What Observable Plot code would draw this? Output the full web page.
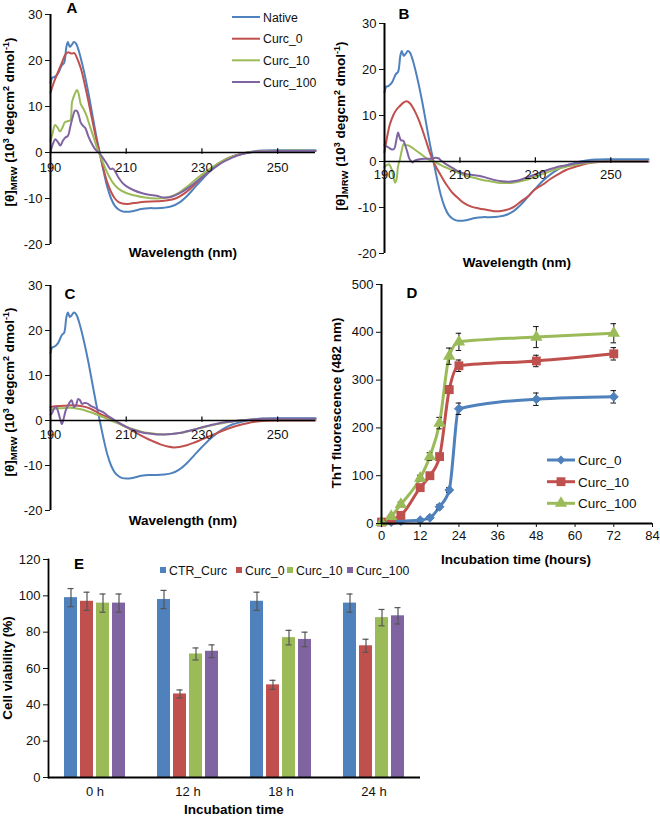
<!DOCTYPE html>
<html><head><meta charset="utf-8">
<script src="https://cdn.jsdelivr.net/npm/d3@7"></script>
<script src="https://cdn.jsdelivr.net/npm/@observablehq/plot@0.6"></script>
<style>
body{margin:0;background:#fff;}
#root{position:relative;width:660px;height:817px;overflow:hidden;font-family:"Liberation Sans",Arial,Helvetica,sans-serif;background:#fff;}
</style></head><body><div id="root"></div>
<script>
// ---------- CD spectra (panels A, B, C) ----------
const cdNames = ["Native", "Curc_0", "Curc_10", "Curc_100"];
const cdXTicks = [190, 210, 230, 250];
const cdYTicks = [-20, -10, 0, 10, 20, 30];
const cdNative = [[190,15],[190.5,16.3],[191,16.4],[192,17.2],[193,19],[193.6,19.5],[194.2,23],[194.6,24],[195.1,23],[195.6,23.4],[196.2,24],[196.8,23.6],[197.5,22],[198.3,19.5],[199,17],[200,13],[201,8.5],[202,4],[203,0],[204,-4],[205,-7.5],[206,-10],[207,-11.6],[208,-12.4],[209,-12.8],[210,-12.9],[212,-12.7],[214,-12.3],[216,-12.1],[218,-12.1],[220,-12],[222,-11.7],[224,-10.9],[226,-9.5],[228,-7.7],[230,-5.9],[232,-4.2],[234,-2.8],[236,-1.7],[238,-0.9],[240,-0.4],[242,0],[244,0.3],[246,0.45],[250,0.5],[255,0.5],[260,0.5]];
const cdA0 = [[190,13],[191,15.5],[192,17.5],[193,19.5],[194,21.4],[194.7,21.8],[195.5,21.5],[196.3,21.6],[197,20.5],[198,18.3],[199,15],[200,11.2],[201,7.2],[202,3.2],[203,-0.2],[204,-3.6],[205,-6.5],[206,-8.6],[207,-10],[208,-10.8],[209,-11.1],[210,-11.2],[212,-11],[215,-10.7],[218,-10.6],[221,-10.4],[223,-10],[225,-9.1],[227,-7.8],[229,-6.2],[231,-4.6],[233,-3.2],[235,-2.1],[237,-1.2],[239,-0.6],[241,-0.2],[243,0.1],[246,0.25],[250,0.3],[260,0.3]];
const cdA10 = [[190,2.5],[190.5,4],[191.2,6],[191.8,5.5],[192.5,4.6],[193.2,5.5],[193.8,6.6],[194.5,6.8],[195.2,7],[195.7,11],[196.3,12.5],[197,13.6],[197.5,12.5],[198,10.5],[198.7,9.5],[199.5,8],[200.5,5.5],[201.5,3],[202.5,0.5],[203.5,-1.5],[204.5,-3.5],[205.5,-5.2],[206.5,-6.6],[208,-7.9],[210,-8.8],[212,-9.3],[215,-9.8],[218,-10],[220,-9.9],[222,-9.5],[224,-8.7],[226,-7.5],[228,-6.1],[230,-4.8],[232,-3.6],[234,-2.5],[236,-1.6],[238,-0.9],[240,-0.4],[242,0],[245,0.2],[250,0.4],[260,0.4]];
const cdA100 = [[190,0],[190.6,1.8],[191.3,2.9],[192,2.2],[192.6,1.5],[193.3,2.6],[194,3.3],[194.6,3.6],[195.2,5.5],[195.8,7.5],[196.5,9.1],[197,9],[197.5,8],[198,6.5],[198.6,5.8],[199.2,5.3],[200,3.5],[201,1.8],[202,0.5],[203,-0.2],[204,-1.4],[205,-2.6],[205.8,-3.6],[206.5,-3.5],[207.2,-4.3],[208,-5.5],[209,-6.6],[210,-7.3],[212,-8.2],[214,-8.8],[216,-9.2],[218,-9.4],[220,-9.8],[222,-9.6],[224,-8.9],[226,-7.9],[228,-6.7],[230,-5.4],[232,-4.1],[234,-2.9],[236,-1.9],[238,-1.1],[240,-0.5],[242,-0.1],[245,0.2],[250,0.3],[260,0.3]];
const cdB0 = [[190,2],[190.5,4.5],[191.4,8],[192.3,10],[193.2,11.3],[194,12],[195,12.8],[195.9,13.1],[196.8,12.6],[198,11],[199,9.2],[200,7],[201,4.5],[202,2],[203,-0.1],[204,-1.7],[205,-3.1],[206,-4.5],[207,-5.7],[208,-6.8],[209.7,-8.1],[211,-9],[213,-9.8],[215,-10.2],[217,-10.5],[219,-10.8],[220.5,-10.8],[222,-10.6],[224,-10],[226,-8.8],[228,-7.6],[229.2,-6.6],[230,-6],[232,-5],[234,-3.8],[236,-2.8],[238,-1.9],[240,-1.3],[242,-0.8],[244,-0.4],[247,-0.1],[250,0],[260,0]];
const cdB10 = [[190,-1.2],[190.6,-0.8],[191.2,-0.6],[191.8,-1.5],[192.3,-3],[192.8,-4.6],[193.2,-3.8],[193.6,-1],[194.1,0.5],[194.6,2.5],[195.1,3.8],[195.6,3.6],[196.3,3.5],[197,3.2],[198,2.6],[199,2],[200,1.4],[201,0.8],[202,0.3],[203,0],[204,-0.4],[205,-0.8],[206,-1.2],[208,-1.9],[210,-2.6],[212,-3.2],[214,-3.6],[216,-4],[218,-4.3],[220,-4.6],[222,-4.7],[224,-4.6],[226,-4.3],[228,-3.9],[230,-3.3],[232,-2.7],[234,-2.1],[236,-1.6],[238,-1.2],[240,-0.8],[242,-0.5],[244,-0.3],[246,-0.1],[250,0],[260,0]];
const cdB100 = [[190,3.5],[190.6,3.3],[191.3,2.9],[192,2.6],[192.6,2.8],[193.1,4.5],[193.6,6.3],[194,5.3],[194.4,4.6],[195,4.5],[195.5,3.5],[196,2.2],[196.5,0.8],[197,0.1],[197.5,-0.2],[198,0.2],[198.7,0.4],[199.5,0.5],[200.5,0.6],[201.5,0.6],[202.5,0.6],[203.5,0.8],[204.3,0.7],[205,0.2],[206,-0.4],[207,-0.9],[208,-1.4],[209,-1.9],[210,-2.3],[212,-2.8],[214,-3],[215,-3.1],[217,-3.5],[219,-4],[221,-4.3],[223,-4.4],[225,-4.2],[227,-3.7],[229,-3.1],[231,-2.5],[233,-1.9],[235,-1.4],[237,-1],[239,-0.7],[241,-0.4],[243,-0.2],[246,0],[250,0],[260,0]];
const cdC0 = [[190,3],[192,3.2],[194,3.3],[196,3.4],[198,3.2],[200,2.8],[201.5,2.2],[203,1.5],[205,0.8],[207,-0.1],[209,-1],[211,-1.9],[213,-2.9],[215,-3.8],[217,-4.6],[219,-5.3],[221,-5.8],[222.6,-6],[224,-5.9],[226,-5.5],[228,-4.9],[230,-4.2],[232,-3.5],[234,-2.8],[236,-2.1],[238,-1.5],[240,-1],[242,-0.6],[244,-0.3],[246,-0.1],[250,0],[260,0]];
const cdC10 = [[190,2.4],[192,2.7],[194,2.8],[196,2.8],[198,2.5],[200,2],[202,1.4],[204,0.7],[206,0],[208,-0.7],[210,-1.4],[212,-2],[214,-2.5],[216,-2.8],[218,-3],[220,-3.1],[222,-3],[224,-2.8],[226,-2.5],[228,-2],[230,-1.6],[232,-1.2],[234,-0.8],[236,-0.5],[238,-0.2],[240,0],[243,0.2],[246,0.3],[250,0.3],[260,0.3]];
const cdC100 = [[190,1.3],[190.5,1.8],[191,2.8],[191.5,3],[192,2],[192.5,0.5],[193,-0.8],[193.5,0.5],[194,2.2],[194.6,3.3],[195.2,4.2],[195.6,4.5],[196.2,3],[196.7,3.3],[197.3,4.8],[197.8,4.5],[198.3,3.7],[199,3.9],[199.7,3.8],[200.5,3.3],[201.5,2.9],[203,2.2],[204,1.8],[205,1.1],[206,0.6],[207,0],[208,-0.5],[210,-1.4],[212,-2.1],[214,-2.6],[216,-2.9],[218,-3.1],[220,-3.1],[222,-3],[224,-2.8],[226,-2.4],[228,-2],[230,-1.5],[232,-1.1],[234,-0.7],[236,-0.4],[238,-0.2],[240,0],[243,0.2],[246,0.4],[250,0.4],[260,0.4]];

// ---------- ThT fluorescence (panel D) ----------
const thtNames = ["Curc_0", "Curc_10", "Curc_100"];
const thtTimes = [0, 3, 6, 12, 15, 18, 21, 24, 48, 72];
const thtCurc0 = [2, 3, 5, 7, 12, 35, 70, 240, 260, 265];
const thtErr0 = [2, 2, 2, 3, 3, 5, 5, 12, 13, 13];
const thtCurc10 = [3, 7, 17, 75, 100, 140, 280, 330, 340, 355];
const thtErr10 = [2, 3, 4, 5, 6, 6, 8, 12, 12, 13];
const thtCurc100 = [2, 15, 40, 95, 140, 210, 350, 380, 390, 398];
const thtErr100 = [2, 3, 5, 6, 8, 12, 17, 18, 22, 20];
const thtXTicks = [0, 12, 24, 36, 48, 60, 72, 84];
const thtYTicks = [0, 100, 200, 300, 400, 500];

// ---------- Cell viability (panel E) ----------
const viabTimes = ["0 h", "12 h", "18 h", "24 h"];
const viabSeries = ["CTR_Curc", "Curc_0", "Curc_10", "Curc_100"];
const viabCTR = [99, 98, 97, 96];
const viabCurc0 = [97, 46, 51, 72.5];
const viabCurc10 = [96, 68, 77, 88];
const viabCurc100 = [96, 69.5, 76, 89];
const errCTR = [5, 5, 5, 5];
const errCurc0 = [5, 2.2, 2.5, 3.6];
const errCurc10 = [5, 3.3, 4, 4.5];
const errCurc100 = [5, 3.5, 4, 4.5];
const viabYTicks = [0, 20, 40, 60, 80, 100, 120];

const BLUE = "#4F81BD", RED = "#C0504D", GREEN = "#9BBB59", PURPLE = "#8064A2";
const cdColors = [BLUE, RED, GREEN, PURPLE];
const FONT = '"Liberation Sans", Arial, Helvetica, sans-serif';
const baseStyle = {fontFamily: FONT, fontSize: "13px", background: "transparent", color: "#111", overflow: "visible"};

const root = document.getElementById("root");
function place(node, left, top) {
  node.style.position = "absolute";
  node.style.left = left + "px";
  node.style.top = top + "px";
  root.appendChild(node);
}

function cdPanel(series, dims, tickDy) {
  const rows = series.flatMap(s => s.values.map(([w, v]) => ({name: s.name, w, v})));
  return Plot.plot({
    width: dims.w, height: dims.h,
    marginTop: dims.t, marginRight: dims.r, marginBottom: dims.b, marginLeft: dims.l,
    style: baseStyle,
    x: {domain: [190, 260], axis: null},
    y: {domain: [-20, 30], axis: null},
    color: {domain: cdNames, range: cdColors},
    marks: [
      Plot.line(rows, {x: "w", y: "v", z: "name", stroke: "name", strokeWidth: 2, curve: "catmull-rom"}),
      Plot.ruleY([0], {stroke: "#000", strokeWidth: 1.6}),
      Plot.ruleX(cdXTicks.slice(1), {x: d => d, y1: -0.4, y2: 0.8, stroke: "#000", strokeWidth: 1.2}),
      Plot.ruleX([190], {y1: -20, y2: 30, stroke: "#000", strokeWidth: 2}),
      Plot.axisY({ticks: cdYTicks, tickSize: 5, tickPadding: 3, label: null, tickFormat: d => String(d)}),
      Plot.text(cdXTicks, {x: d => d, y: 0, dy: tickDy, text: d => String(d)})
    ]
  });
}

const sA = [{name: "Native", values: cdNative}, {name: "Curc_0", values: cdA0}, {name: "Curc_10", values: cdA10}, {name: "Curc_100", values: cdA100}];
const sB = [{name: "Native", values: cdNative}, {name: "Curc_0", values: cdB0}, {name: "Curc_10", values: cdB10}, {name: "Curc_100", values: cdB100}];
const sC = [{name: "Native", values: cdNative}, {name: "Curc_0", values: cdC0}, {name: "Curc_10", values: cdC10}, {name: "Curc_100", values: cdC100}];

place(cdPanel(sA, {w: 330, h: 270, t: 14, r: 15, b: 26, l: 50}, 15), 0, 0);
place(cdPanel(sB, {w: 330, h: 280, t: 23, r: 12, b: 27, l: 54}, 13), 330, 0);
place(cdPanel(sC, {w: 330, h: 270, t: 15, r: 15, b: 30, l: 50}, 14), 0, 270);

// Panel D
const mk = (vals, errs, name) => thtTimes.map((t, i) => ({name, t, v: vals[i], e: errs[i]}));
const d0 = mk(thtCurc0, thtErr0, "Curc_0");
const d10 = mk(thtCurc10, thtErr10, "Curc_10");
const d100 = mk(thtCurc100, thtErr100, "Curc_100");
const dAll = [...d0, ...d10, ...d100];
const capW = 0.85;
const plotD = Plot.plot({
  width: 330, height: 298, marginTop: 14, marginRight: 8, marginBottom: 45, marginLeft: 51,
  style: baseStyle,
  x: {domain: [0, 84], axis: null},
  y: {domain: [0, 500], axis: null},
  color: {domain: thtNames, range: [BLUE, RED, GREEN]},
  marks: [
    Plot.line(dAll, {x: "t", y: "v", z: "name", stroke: "name", strokeWidth: 3, curve: "monotone-x"}),
    Plot.ruleX(dAll, {x: "t", y1: d => d.v - d.e, y2: d => d.v + d.e, stroke: "#111", strokeWidth: 1}),
    Plot.ruleY(dAll, {y: d => d.v + d.e, x1: d => d.t - capW, x2: d => d.t + capW, stroke: "#111", strokeWidth: 1}),
    Plot.ruleY(dAll, {y: d => d.v - d.e, x1: d => d.t - capW, x2: d => d.t + capW, stroke: "#111", strokeWidth: 1}),
    Plot.dot(d0, {x: "t", y: "v", symbol: "diamond2", r: 4, fill: BLUE, stroke: BLUE, strokeWidth: 1}),
    Plot.dot(d10, {x: "t", y: "v", symbol: "square", r: 5, fill: RED}),
    Plot.dot(d100, {x: "t", y: "v", symbol: "triangle", r: 4.6, fill: GREEN}),
    Plot.ruleX([0], {y1: 0, y2: 500, stroke: "#000", strokeWidth: 2}),
    Plot.ruleY([0], {stroke: "#000", strokeWidth: 2}),
    Plot.axisY({ticks: thtYTicks, tickSize: 5, tickPadding: 3, label: null, tickFormat: d => String(d)}),
    Plot.axisX({ticks: thtXTicks, tickSize: 4, tickPadding: 3, label: null, tickFormat: d => String(d)})
  ]
});
place(plotD, 330, 270);

// Panel E
const viabVals = [viabCTR, viabCurc0, viabCurc10, viabCurc100];
const viabErrs = [errCTR, errCurc0, errCurc10, errCurc100];
const eRows = viabTimes.flatMap((time, i) => viabSeries.map((s, j) => ({time, s, v: viabVals[j][i], e: viabErrs[j][i]})));
const plotE = Plot.plot({
  width: 430, height: 277, marginTop: 19, marginRight: 10, marginBottom: 40, marginLeft: 48,
  style: baseStyle,
  fx: {domain: viabTimes, padding: 0, label: null, tickSize: 0, tickPadding: 9},
  x: {domain: viabSeries, paddingInner: 0.2, paddingOuter: 0.84, axis: null},
  y: {domain: [0, 120], ticks: viabYTicks, tickSize: 5, tickPadding: 3, label: null, tickFormat: d => String(d)},
  color: {domain: viabSeries, range: cdColors},
  marks: [
    Plot.barY(eRows, {fx: "time", x: "s", y: "v", fill: "s"}),
    Plot.ruleX(eRows, {fx: "time", x: "s", y1: d => d.v - d.e, y2: d => d.v + d.e, stroke: "#555", strokeWidth: 1.2}),
    Plot.tickY(eRows, {fx: "time", x: "s", y: d => d.v + d.e, stroke: "#555", strokeWidth: 1.2, insetLeft: 3.5, insetRight: 3.5}),
    Plot.tickY(eRows, {fx: "time", x: "s", y: d => d.v - d.e, stroke: "#555", strokeWidth: 1.2, insetLeft: 3.5, insetRight: 3.5}),
    Plot.ruleY([0], {stroke: "#000", strokeWidth: 1.8}),
    Plot.frame({anchor: "left", facetAnchor: "left", stroke: "#000", strokeWidth: 1.8})
  ]
});
place(plotE, 0, 540);

// ---------- Overlay: panel letters, axis titles, legends ----------
const ov = d3.create("svg").attr("width", 660).attr("height", 817)
  .style("font-family", FONT).style("overflow", "visible");
place(ov.node(), 0, 0);

function letter(t, x, y) {
  ov.append("text").attr("x", x).attr("y", y).attr("text-anchor", "middle")
    .attr("font-weight", "bold").attr("font-size", 15).attr("fill", "#000").text(t);
}
letter("A", 72, 13); letter("B", 404, 19); letter("C", 70, 299); letter("D", 412, 298); letter("E", 79, 569);

function xTitle(t, x, y) {
  ov.append("text").attr("x", x).attr("y", y).attr("text-anchor", "middle")
    .attr("font-weight", "bold").attr("font-size", 13.5).attr("fill", "#000").text(t);
}
xTitle("Wavelength (nm)", 183, 257);
xTitle("Wavelength (nm)", 517, 267);
xTitle("Wavelength (nm)", 183, 525);
xTitle("Incubation time (hours)", 516, 564);
xTitle("Incubation time", 234, 814);

function yTitlePlain(t, x, y) {
  ov.append("text").attr("transform", `translate(${x},${y}) rotate(-90)`).attr("text-anchor", "middle")
    .attr("font-weight", "bold").attr("font-size", 13.5).attr("fill", "#000").text(t);
}
yTitlePlain("ThT fluorescence (482 nm)", 341, 403);
yTitlePlain("Cell viability (%)", 12, 668);

function cdYTitle(x, y) {
  const t = ov.append("text").attr("transform", `translate(${x},${y}) rotate(-90)`).attr("text-anchor", "middle")
    .attr("font-weight", "bold").attr("font-size", 13.5).attr("fill", "#000");
  t.append("tspan").text("[θ]");
  t.append("tspan").attr("font-size", 9.5).attr("dy", 3).text("MRW");
  t.append("tspan").attr("dy", -3).text(" (10");
  t.append("tspan").attr("font-size", 9).attr("dy", -5).text("3");
  t.append("tspan").attr("dy", 5).text(" degcm");
  t.append("tspan").attr("font-size", 9).attr("dy", -5).text("2");
  t.append("tspan").attr("dy", 5).text(" dmol");
  t.append("tspan").attr("font-size", 9).attr("dy", -5).text("-1");
  t.append("tspan").attr("dy", 5).text(")");
}
cdYTitle(14, 122);
cdYTitle(345, 126);
cdYTitle(14, 392);

// Legend A
const legA = [17, 38.7, 60.3, 82];
cdNames.forEach((n, i) => {
  ov.append("line").attr("x1", 232).attr("x2", 260).attr("y1", legA[i]).attr("y2", legA[i])
    .attr("stroke", cdColors[i]).attr("stroke-width", 2);
  ov.append("text").attr("x", 263).attr("y", legA[i] + 4.5).attr("font-size", 12.3).attr("fill", "#111").text(n);
});

// Legend D
const legD = [460, 481.7, 503.3];
const dCols = [BLUE, RED, GREEN];
const dSyms = [d3.symbol(d3.symbolDiamond2, 50), d3.symbol(d3.symbolSquare, 78), d3.symbol(d3.symbolTriangle, 66)];
thtNames.forEach((n, i) => {
  ov.append("line").attr("x1", 547).attr("x2", 575).attr("y1", legD[i]).attr("y2", legD[i])
    .attr("stroke", dCols[i]).attr("stroke-width", 3);
  ov.append("path").attr("d", dSyms[i]()).attr("transform", `translate(561,${legD[i]})`).attr("fill", dCols[i]);
  ov.append("text").attr("x", 578).attr("y", legD[i] + 5).attr("font-size", 13.5).attr("fill", "#111").text(n);
});

// Legend E
const legEx = [160, 236, 287, 347];
viabSeries.forEach((n, i) => {
  ov.append("rect").attr("x", legEx[i]).attr("y", 567).attr("width", 6).attr("height", 6).attr("fill", cdColors[i]);
  ov.append("text").attr("x", legEx[i] + 9).attr("y", 574.5).attr("font-size", 12.3).attr("fill", "#111").text(n);
});
</script></body></html>
